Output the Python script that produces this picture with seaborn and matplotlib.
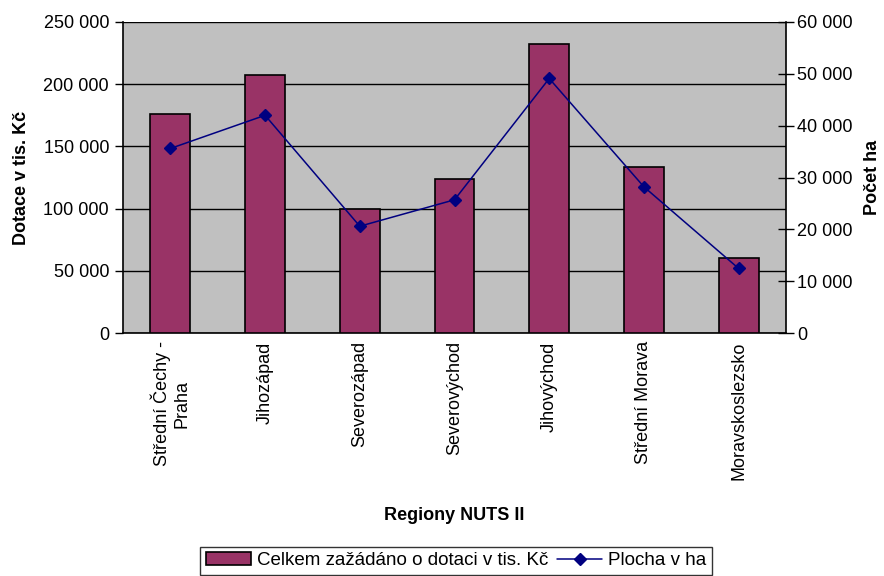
import matplotlib
matplotlib.use("Agg")
import matplotlib.pyplot as plt
import seaborn as sns
import numpy as np
import pandas as pd
from matplotlib.ticker import FuncFormatter, FixedLocator

regions = ["Střední Čechy -\nPraha", "Jihozápad", "Severozápad", "Severovýchod",
           "Jihovýchod", "Střední Morava", "Moravskoslezsko"]
dotace = [176000, 207000, 99400, 123800, 232000, 133200, 60000]
plocha = [35600, 42000, 20600, 25700, 49100, 28200, 12450]
bar_label = "Celkem zažádáno o dotaci v tis. Kč"
line_label = "Plocha v ha"

sns.set_style("white")
plt.rcParams['font.family'] = ['Liberation Sans', 'DejaVu Sans']
plt.rcParams.update({"text.color": "black", "axes.labelcolor": "black",
                     "xtick.color": "black", "ytick.color": "black"})

fig = plt.figure(figsize=(8.84, 5.76), dpi=100)
ax = fig.add_axes([123/884, 1-333/576, (786-123)/884, (333-22)/576])
ax.set_facecolor("#C0C0C0")

df = pd.DataFrame({"region": regions, "dotace": dotace})
sns.barplot(data=df, x="region", y="dotace", color="#993366", saturation=1,
            width=0.42, edgecolor="black", linewidth=1.2, ax=ax, zorder=3, label=bar_label)
if ax.get_legend() is not None:
    ax.get_legend().remove()

ax.set_ylim(0, 250000)
ax.set_xlim(-0.5, len(regions) - 0.5)
ax.yaxis.set_major_locator(FixedLocator(np.arange(0, 250001, 50000)))
fmt = FuncFormatter(lambda v, p: f"{int(v):,}".replace(",", " "))
ax.yaxis.set_major_formatter(fmt)
ax.grid(axis="y", color="black", linewidth=1, zorder=0)
ax.set_axisbelow(True)
for s in ["top", "right"]:
    ax.spines[s].set_visible(False)
ax.spines["left"].set_color("black")
ax.spines["bottom"].set_color("black")
ax.spines["left"].set_linewidth(1.2)
ax.spines["bottom"].set_linewidth(1.2)

ax.set_xticks(range(len(regions)))
ax.set_xticklabels(regions, rotation=90, fontsize=13, linespacing=1.15, color="black")
ax.tick_params(axis="x", which="major", length=0, pad=6)
ax.set_xticks(np.arange(-0.5, len(regions), 1.0), minor=True)
ax.tick_params(axis="x", which="minor", length=6, width=1, color="black", direction="out")
ax.tick_params(axis="y", length=6, width=1, color="black", labelcolor="black",
               direction="out", labelsize=13, pad=4, left=True)
ax.set_ylabel("Dotace v tis. Kč", fontsize=13, fontweight="bold", labelpad=10, color="black")
ax.set_xlabel("Regiony NUTS II", fontsize=13, fontweight="bold", labelpad=20, color="black")

ax2 = ax.twinx()
ax2.plot(np.arange(len(regions)), plocha, color="#000080", marker="D", markersize=6,
         linewidth=1.1, label=line_label, zorder=5)
ax2.set_ylim(0, 60000)
ax2.yaxis.set_major_locator(FixedLocator(np.arange(0, 60001, 10000)))
ax2.yaxis.set_major_formatter(fmt)
ax2.tick_params(axis="y", length=12, width=1, color="black", labelcolor="black",
                direction="inout", labelsize=13, pad=2, right=True)
for s in ["top", "left", "bottom"]:
    ax2.spines[s].set_visible(False)
ax2.spines["right"].set_color("black")
ax2.spines["right"].set_linewidth(1.2)
ax2.set_ylabel("Počet ha", fontsize=13, fontweight="bold", labelpad=8, color="black")
ax2.set_xlim(-0.5, len(regions) - 0.5)

h1, l1 = ax.get_legend_handles_labels()
h2, l2 = ax2.get_legend_handles_labels()
leg = fig.legend(h1 + h2, l1 + l2, loc="lower center", bbox_to_anchor=(456/884, 0.0),
                 ncol=2, frameon=True, fancybox=False, edgecolor="black", fontsize=13.5,
                 handlelength=2.4, handletextpad=0.3, columnspacing=0.5, borderpad=0.3,
                 borderaxespad=0.05, labelcolor="black")
leg.get_frame().set_linewidth(1)

fig.savefig("out.png", dpi=100)
